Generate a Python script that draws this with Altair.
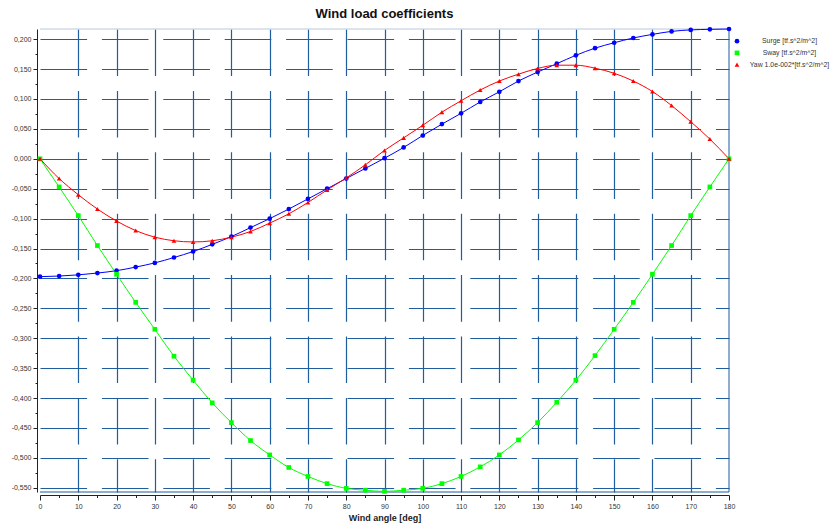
import altair as alt
import pandas as pd

angles = [0, 5, 10, 15, 20, 25, 30, 35, 40, 45, 50, 55, 60, 65, 70, 75, 80, 85, 90,
          95, 100, 105, 110, 115, 120, 125, 130, 135, 140, 145, 150, 155, 160, 165, 170, 175, 180]
surge = [-0.197, -0.196, -0.194, -0.191, -0.187, -0.181, -0.174, -0.165, -0.155, -0.143,
         -0.130, -0.115, -0.100, -0.084, -0.067, -0.050, -0.033, -0.016, 0.001, 0.019,
         0.039, 0.058, 0.076, 0.095, 0.112, 0.130, 0.145, 0.159, 0.173, 0.185,
         0.194, 0.202, 0.208, 0.213, 0.2155, 0.2165, 0.217]
sway = [0.0, -0.047, -0.095, -0.145, -0.193, -0.240, -0.285, -0.330, -0.370, -0.408,
        -0.441, -0.471, -0.495, -0.516, -0.531, -0.543, -0.551, -0.554, -0.556, -0.554,
        -0.551, -0.543, -0.531, -0.515, -0.495, -0.470, -0.441, -0.407, -0.370, -0.329,
        -0.285, -0.240, -0.193, -0.145, -0.095, -0.047, 0.0]
yaw = [0.0, -0.033, -0.060, -0.084, -0.104, -0.120, -0.131, -0.137, -0.139, -0.137,
       -0.131, -0.1215, -0.1075, -0.092, -0.073, -0.052, -0.032, -0.010, 0.014, 0.035,
       0.056, 0.078, 0.097, 0.115, 0.130, 0.1415, 0.151, 0.1565, 0.1565, 0.1515,
       0.143, 0.130, 0.1125, 0.089, 0.062, 0.033, 0.0]

series_names = ["Surge [tf.s^2/m^2]", "Sway [tf.s^2/m^2]", "Yaw 1.0e-002*[tf.s^2/m^2]"]
series_colors = ["#0000ff", "#00ff00", "#ff0000"]
series_shapes = ["circle", "square", "triangle-up"]

x_ticks = list(range(0, 185, 5))
y_ticks = [round(-0.55 + 0.025 * i, 3) for i in range(31)]

rows = []
for name, vals in zip(series_names, [surge, sway, yaw]):
    for a, v in zip(angles, vals):
        rows.append({"angle": a, "value": v, "series": name})
df = pd.DataFrame(rows)

W, H = 689, 463
Y_MIN, Y_MAX = -0.557, 0.217
GRID = "#1f5d9e"
DASH = [46.6, 14.8]
FONT = "Liberation Sans"

x_major = "datum.value % 10 == 0"
y_major = "abs(datum.value * 20 - round(datum.value * 20)) < 0.001"

x_axis = alt.Axis(
    values=x_ticks,
    labelExpr=f"{x_major} ? datum.label : ''",
    labelFlush=False,
    tickSize={"condition": {"test": x_major, "value": 5}, "value": 2.5},
    tickColor="#222", domainColor="#222", offset=3,
    grid=True, gridColor=GRID, gridWidth=1.2, gridDash=DASH, gridDashOffset=0,
    gridOpacity={"condition": {"test": f"{x_major} && datum.value > 0 && datum.value < 180", "value": 1}, "value": 0},
    labelFontSize=7, labelColor="#333", labelFont=FONT, labelPadding=2,
    title="Wind angle [deg]", titleFontSize=9, titleFont=FONT, titleFontWeight="bold",
    titleColor="#222", titlePadding=4,
)
y_axis = alt.Axis(
    values=y_ticks,
    labelExpr=f"{y_major} ? (datum.value < -0.0001 ? '-' + replace(format(abs(datum.value), '.3f'), '.', ',') : replace(format(abs(datum.value), '.3f'), '.', ',')) : ''",
    labelFlush=False,
    tickSize={"condition": {"test": y_major, "value": 4}, "value": 2},
    tickColor="#222", domainColor="#222", offset=3,
    grid=True, gridColor=GRID, gridWidth=1.2, gridDash=DASH,
    gridOpacity={"condition": {"test": y_major, "value": 1}, "value": 0},
    labelFontSize=7, labelColor="#333", labelFont=FONT, labelPadding=2,
    title=None,
)

x_enc = alt.X("angle:Q", scale=alt.Scale(domain=[0, 180], nice=False, zero=False), axis=x_axis)
y_enc = alt.Y("value:Q", scale=alt.Scale(domain=[Y_MIN, Y_MAX], nice=False, zero=False), axis=y_axis)

base = alt.Chart(df)

line_layers = [
    base.transform_filter(alt.datum.series == name)
        .mark_line(strokeWidth=1, interpolate="monotone", color=col)
        .encode(x=x_enc, y=y_enc)
    for name, col in zip(series_names, series_colors)
]

points = base.mark_point(filled=True, size=22, opacity=1).encode(
    x=x_enc, y=y_enc,
    color=alt.Color("series:N", scale=alt.Scale(domain=series_names, range=series_colors),
                    legend=alt.Legend(orient="none", legendX=693.5, legendY=8.7, padding=0, title=None,
                                      labelFontSize=6.9, labelFont=FONT, labelColor="#333",
                                      labelAlign="center", labelOffset=49, symbolSize=22,
                                      rowPadding=3.7, labelLimit=200)),
    shape=alt.Shape("series:N", scale=alt.Scale(domain=series_names, range=series_shapes)),
)

frame_data = alt.Data(values=[{"k": 0}])
right_border = alt.Chart(frame_data).mark_rule(color=GRID, strokeWidth=1).encode(
    x=alt.value(W), y=alt.value(0), y2=alt.value(H))
bottom_border = alt.Chart(frame_data).mark_rule(color=GRID, strokeWidth=1).encode(
    x=alt.value(0), x2=alt.value(W), y=alt.value(H))
top_border = alt.Chart(frame_data).mark_rule(color="#b8c8dc", strokeWidth=1).encode(
    x=alt.value(0), x2=alt.value(W), y=alt.value(0))

chart = alt.layer(right_border, bottom_border, top_border, *line_layers, points).properties(
    width=W, height=H,
    title=alt.TitleParams("Wind load coefficients", fontSize=13, fontWeight="bold", font=FONT,
                          anchor="middle", offset=6, color="#111"),
    autosize=alt.AutoSizeParams(type="none"),
    padding={"left": 40, "top": 29, "right": 101, "bottom": 35},
).configure_view(stroke=None)

chart.save("out.html", embed_options={"renderer": "svg", "actions": False})
